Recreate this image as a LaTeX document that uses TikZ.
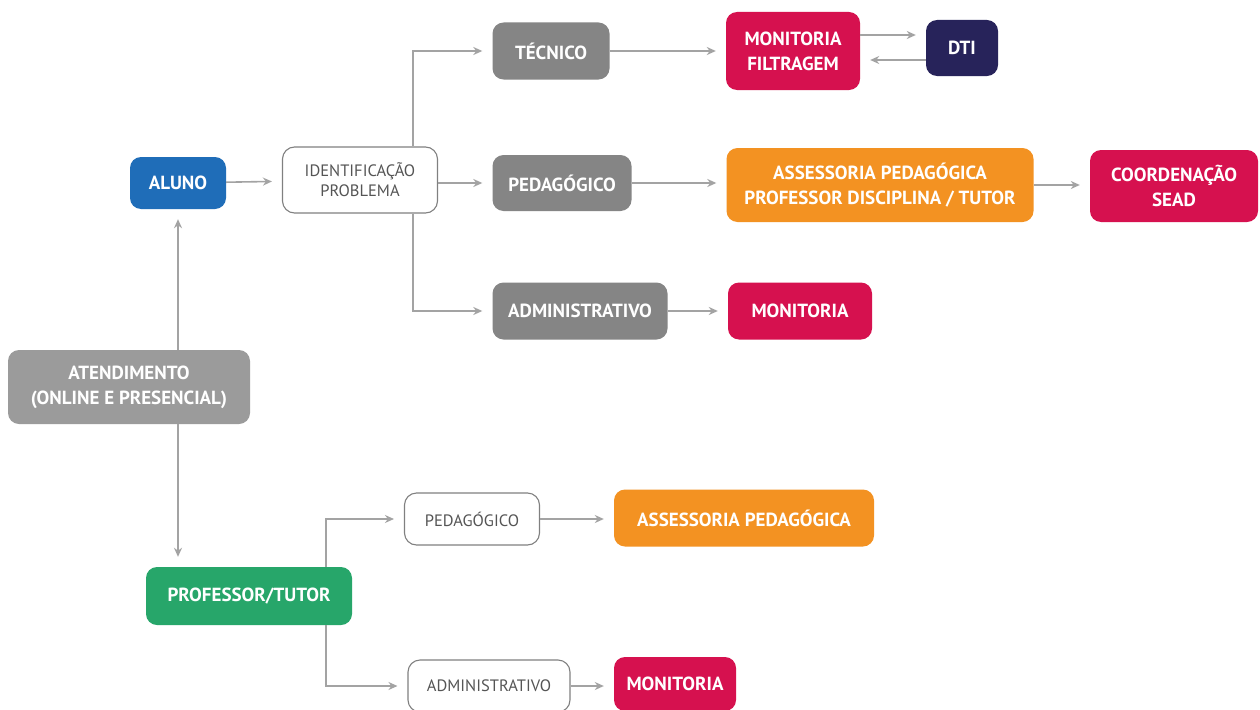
\documentclass[tikz,border=0pt]{standalone}
\usepackage{fontspec}
\setmainfont{PT Sans}
\usetikzlibrary{arrows.meta,calc}
\definecolor{cgray}{HTML}{858585}
\definecolor{cgrayl}{HTML}{9B9B9B}
\definecolor{cblue}{HTML}{1F6DB8}
\definecolor{cpink}{HTML}{D6114F}
\definecolor{cnavy}{HTML}{27235A}
\definecolor{corange}{HTML}{F39222}
\definecolor{cgreen}{HTML}{27A66A}
\definecolor{carrow}{HTML}{A3A3A3}
\definecolor{cline}{HTML}{808080}
\definecolor{ctext}{HTML}{555555}
\begin{document}
\begin{tikzpicture}[x=1pt,y=-1pt,
  base/.style={rounded corners=11pt, align=center, inner sep=0pt, text=white,
    font=\fontsize{19}{25}\selectfont\bfseries},
  gbox/.style={base, fill=cgray},
  bbox/.style={base, fill=cblue},
  pbox/.style={base, fill=cpink},
  nbox/.style={base, fill=cnavy},
  obox/.style={base, fill=corange},
  grbox/.style={base, fill=cgreen},
  wbox/.style={rounded corners=12pt, align=center, inner sep=0pt, draw=cline,
    line width=1.1pt, fill=white, text=ctext, font=\fontsize{16.5}{20}\selectfont},
  arr/.style={draw=carrow, line width=1.6pt, -{Stealth[length=9pt,width=8pt]}, shorten >=10pt},
  ln/.style={draw=carrow, line width=1.6pt}]
\fill[white] (0,0) rectangle (1260,709);
\useasboundingbox (0,0) rectangle (1260,709);

% nodes
\node[gbox, minimum width=117pt, minimum height=57pt] (tec) at (551,51) {TÉCNICO};
\node[pbox, minimum width=134pt, minimum height=78pt] (monf) at (793,51) {MONITORIA\\FILTRAGEM};
\node[nbox, minimum width=72pt, minimum height=56pt] (dti) at (962,48) {DTI};
\node[bbox, minimum width=96pt, minimum height=52pt] (aluno) at (178,183) {ALUNO};
\node[wbox, minimum width=155pt, minimum height=66pt] (ident) at (360,180) {IDENTIFICAÇÃO\\PROBLEMA};
\node[gbox, minimum width=139pt, minimum height=56pt] (ped) at (562,183) {PEDAGÓGICO};
\node[obox, minimum width=307pt, minimum height=74pt] (asp) at (880,185) {ASSESSORIA PEDAGÓGICA\\PROFESSOR DISCIPLINA / TUTOR};
\node[pbox, minimum width=168pt, minimum height=72pt] (coord) at (1174,186) {COORDENAÇÃO\\SEAD};
\node[gbox, minimum width=175pt, minimum height=57pt] (adm) at (580,311) {ADMINISTRATIVO};
\node[pbox, minimum width=144pt, minimum height=57pt] (mon) at (800,311) {MONITORIA};
\node[base, fill=cgrayl, minimum width=242pt, minimum height=74pt] (aten) at (129,387) {ATENDIMENTO\\(ONLINE E PRESENCIAL)};
\node[wbox, minimum width=135pt, minimum height=52pt] (ped2) at (472,519) {PEDAGÓGICO};
\node[obox, minimum width=260pt, minimum height=57pt] (asp2) at (744,518) {ASSESSORIA PEDAGÓGICA};
\node[grbox, minimum width=206pt, minimum height=58pt] (prof) at (249,596) {PROFESSOR/TUTOR};
\node[wbox, minimum width=162pt, minimum height=52pt] (adm2) at (489,686) {ADMINISTRATIVO};
\node[pbox, minimum width=122pt, minimum height=54pt] (mon2) at (675,684) {MONITORIA};

% coordinates
\coordinate (it) at ($(ident.north)+(53,0)$);
\coordinate (ib) at ($(ident.south)+(53,0)$);
\coordinate (pt) at ($(prof.north)+(77,0)$);
\coordinate (pb) at ($(prof.south)+(77,0)$);

% connectors
\draw[arr] (aluno) -- (ident);
\draw[arr] (aten.north -| aluno) -- (aluno.south);
\draw[arr] (aten.south -| aluno) -- (prof.north -| aluno);
\draw[arr] (it) |- (tec.west);
\draw[arr] (ident.east |- ped) -- (ped.west);
\draw[arr] (ib) |- (adm.west);
\draw[arr] (tec) -- (monf);
\draw[arr] ($(monf.east)+(0,-16)$) -- ($(dti.west)+(0,-13)$);
\draw[arr] ($(dti.west)+(0,12)$) -- ($(monf.east)+(0,9)$);
\draw[arr] (ped) -- (ped -| asp.west);
\draw[arr] (asp) -- (asp -| coord.west);
\draw[arr] (adm) -- (mon);
\draw[arr] (pt) |- (ped2.west);
\draw[arr] (pb) |- (adm2.west);
\draw[arr] (ped2) -- (ped2 -| asp2.west);
\draw[arr] (adm2) -- (adm2 -| mon2.west);
\end{tikzpicture}
\end{document}
